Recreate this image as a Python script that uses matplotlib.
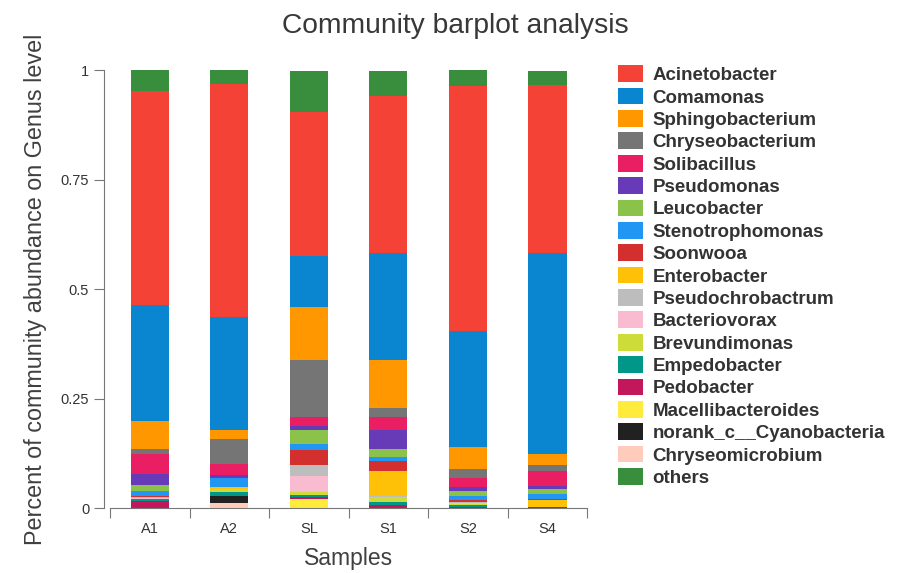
import matplotlib

matplotlib.use("Agg")

import matplotlib.pyplot as plt  # noqa: E402
import numpy as np  # noqa: E402
from matplotlib.patches import Patch  # noqa: E402

plt.rcParams["font.family"] = ["Liberation Sans", "DejaVu Sans"]

samples = ["A1", "A2", "SL", "S1", "S2", "S4"]

# legend order (top of legend = top of stack, "others" sits on the very top)
acinetobacter = [0.488, 0.531, 0.328, 0.358, 0.560, 0.383]
comamonas = [0.266, 0.259, 0.117, 0.245, 0.264, 0.459]
sphingobacterium = [0.063, 0.019, 0.121, 0.109, 0.051, 0.026]
chryseobacterium = [0.013, 0.057, 0.130, 0.021, 0.021, 0.013]
solibacillus = [0.045, 0.027, 0.022, 0.030, 0.019, 0.036]
pseudomonas = [0.024, 0.005, 0.008, 0.044, 0.009, 0.006]
leucobacter = [0.014, 0.002, 0.033, 0.017, 0.011, 0.011]
stenotrophomonas = [0.012, 0.019, 0.014, 0.011, 0.010, 0.011]
soonwooa = [0.003, 0.001, 0.034, 0.021, 0.004, 0.004]
enterobacter = [0.000, 0.004, 0.000, 0.056, 0.001, 0.015]
pseudochrobactrum = [0.001, 0.000, 0.024, 0.005, 0.002, 0.000]
bacteriovorax = [0.003, 0.000, 0.038, 0.000, 0.003, 0.000]
brevundimonas = [0.001, 0.006, 0.005, 0.011, 0.002, 0.000]
empedobacter = [0.003, 0.009, 0.006, 0.006, 0.005, 0.001]
pedobacter = [0.016, 0.001, 0.004, 0.008, 0.002, 0.002]
macellibacteroides = [0.000, 0.001, 0.021, 0.000, 0.000, 0.000]
norank_cyanobacteria = [0.000, 0.015, 0.000, 0.000, 0.000, 0.000]
chryseomicrobium = [0.001, 0.012, 0.000, 0.000, 0.000, 0.000]
others = [0.047, 0.032, 0.094, 0.057, 0.036, 0.032]

genera = [
    ("Acinetobacter", acinetobacter, "#F44336"),
    ("Comamonas", comamonas, "#0A86D0"),
    ("Sphingobacterium", sphingobacterium, "#FF9800"),
    ("Chryseobacterium", chryseobacterium, "#757575"),
    ("Solibacillus", solibacillus, "#E91E63"),
    ("Pseudomonas", pseudomonas, "#673AB7"),
    ("Leucobacter", leucobacter, "#8BC34A"),
    ("Stenotrophomonas", stenotrophomonas, "#2196F3"),
    ("Soonwooa", soonwooa, "#D32F2F"),
    ("Enterobacter", enterobacter, "#FFC107"),
    ("Pseudochrobactrum", pseudochrobactrum, "#BDBDBD"),
    ("Bacteriovorax", bacteriovorax, "#F8BBD0"),
    ("Brevundimonas", brevundimonas, "#CDDC39"),
    ("Empedobacter", empedobacter, "#009688"),
    ("Pedobacter", pedobacter, "#C2185B"),
    ("Macellibacteroides", macellibacteroides, "#FFEB3B"),
    ("norank_c__Cyanobacteria", norank_cyanobacteria, "#212121"),
    ("Chryseomicrobium", chryseomicrobium, "#FFCCBC"),
    ("others", others, "#388E3C"),
]

fig = plt.figure(figsize=(9.02, 5.73), dpi=100)
ax = fig.add_axes([0.122, 0.113, 0.529, 0.764])

x = np.arange(len(samples))
bottom = np.zeros(len(samples))
# stack from the last legend entry (bottom) up to "others" on top
stack_order = genera[-2::-1] + [genera[-1]]
for name, values, color in stack_order:
    ax.bar(x, values, width=0.48, bottom=bottom, color=color, linewidth=0)
    bottom += np.array(values)

ax.set_xlim(-0.5, len(samples) - 0.5)
ax.set_ylim(0, 1)

ax.set_yticks([0, 0.25, 0.5, 0.75, 1])
ax.set_yticklabels(["0", "0.25", "0.5", "0.75", "1"])
ax.set_xticks(np.arange(len(samples) + 1) - 0.5)
ax.set_xticklabels([])
ax.set_xticks(x, minor=True)
ax.set_xticklabels(samples, minor=True)
ax.tick_params(axis="x", which="minor", length=0, pad=10, labelsize=10.5, labelcolor="#333333")
ax.tick_params(axis="x", which="major", length=7, color="#777777")
ax.tick_params(axis="y", length=7, color="#777777", labelsize=10.5, labelcolor="#333333", pad=4)

for side in ("top", "right"):
    ax.spines[side].set_visible(False)
for side in ("left", "bottom"):
    ax.spines[side].set_color("#777777")
ax.spines["left"].set_position(("outward", 4))

ax.set_xlabel("Samples", fontsize=16.5, color="#404040", labelpad=8)
ax.set_ylabel("Percent of community abundance on Genus level", fontsize=16.8,
              color="#404040", labelpad=10)
fig.text(0.505, 0.955, "Community barplot analysis", ha="center", va="center",
         fontsize=20.3, color="#383838")

handles = [Patch(facecolor=color, edgecolor="none") for _, _, color in genera]
labels = [name for name, _, _ in genera]
fig.legend(handles, labels, loc="upper left", bbox_to_anchor=(0.685, 0.886),
           frameon=False, prop={"weight": "bold", "size": 13.5},
           handlelength=1.35, handleheight=1.0, handletextpad=0.5,
           labelspacing=0.19, borderpad=0, borderaxespad=0,
           labelcolor="#333333")

fig.savefig("out.png", dpi=100)
